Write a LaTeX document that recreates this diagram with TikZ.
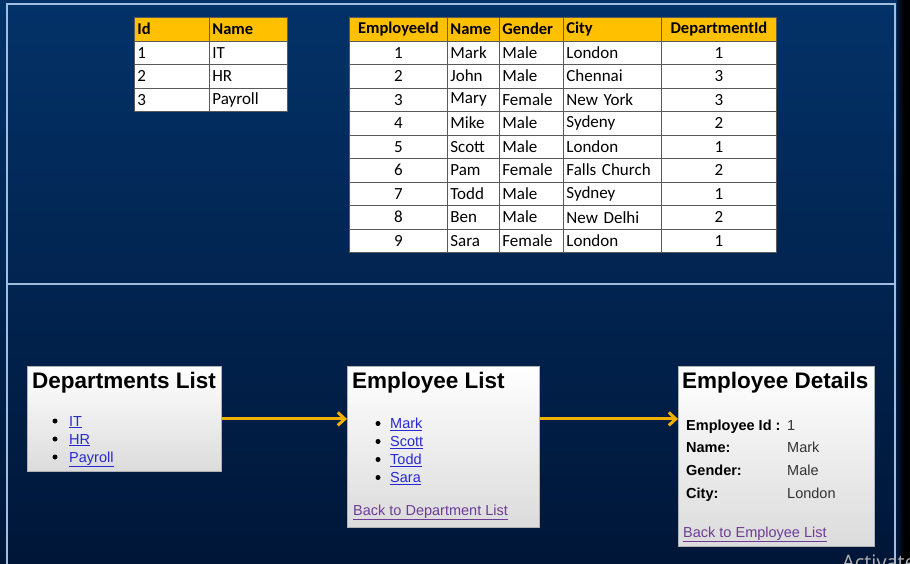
\documentclass[tikz,border=0pt]{standalone}
\usepackage{fontspec}
\setmainfont{Liberation Sans}
\newfontfamily\calibri{Carlito}
\newfontfamily\segoe{Open Sans}
\usetikzlibrary{arrows.meta,calc}
\definecolor{bgtop}{RGB}{3,50,104}
\definecolor{bgbot}{RGB}{0,22,56}
\definecolor{framec}{RGB}{160,190,225}
\definecolor{hdr}{RGB}{255,192,0}
\definecolor{gridc}{RGB}{90,90,90}
\definecolor{linkc}{RGB}{40,40,210}
\definecolor{visitc}{RGB}{110,60,150}
\definecolor{arrc}{RGB}{240,176,0}
\definecolor{valc}{RGB}{50,50,50}
\tikzset{
  cell/.style={draw=gridc, line width=0.8pt, fill=white, inner sep=0pt, anchor=north west,
    minimum height=23.5pt, font=\calibri\fontsize{17}{20}\selectfont, text=black},
  hd/.style={fill=hdr, font=\calibri\bfseries\fontsize{16.5}{20}\selectfont},
  shot/.style={draw=gray!60, line width=0.8pt, top color=white, bottom color=black!14, anchor=north west, inner sep=0pt},
  ttl/.style={anchor=base west, inner sep=0pt, font=\bfseries\fontsize{22.5}{26}\selectfont, text=black},
  item/.style={anchor=base west, inner sep=0pt, font=\fontsize{14.5}{17}\selectfont, text=linkc},
  back/.style={item, text=visitc},
  lab/.style={anchor=base west, inner sep=0pt, font=\bfseries\fontsize{14.5}{17}\selectfont, text=black},
  val/.style={anchor=base west, inner sep=0pt, font=\fontsize{14.5}{17}\selectfont, text=valc},
  bul/.style={circle, fill=black, inner sep=0pt, minimum size=5pt},
  arr/.style={draw=arrc, line width=3pt, -{Straight Barb[length=7pt,width=13pt]}},
}
\begin{document}
\begin{tikzpicture}[x=1pt,y=-1pt]
\useasboundingbox (0,0) rectangle (910,563);
% background
\shade[top color=bgtop, bottom color=bgbot] (0,0) rectangle (910,563);
\shade[left color=bgbot, right color=black] (897,0) rectangle (904,563);
\fill[black] (904,0) rectangle (910,563);
% frame
\draw[framec, line width=1.3pt] (7,570) -- (7,4) -- (895,4) -- (895,570);
\draw[framec, line width=1.6pt] (7,284) -- (895,284);

% Departments table
\node[cell, hd, minimum width=75pt, text width=69pt, inner xsep=3pt, align=left] (d0a) at (134,17) {Id};
\node[cell, hd, minimum width=78pt, text width=72pt, inner xsep=3pt, align=left] (d0b) at (209,17) {Name};
\foreach \i/\a/\b in {1/1/IT, 2/2/HR, 3/3/Payroll}{
  \node[cell, text width=69pt, inner xsep=3pt, align=left] (d\i a) at (134,{17+\i*23.5}) {\a};
  \node[cell, text width=72pt, inner xsep=3pt, align=left] (d\i b) at (209,{17+\i*23.5}) {\b};
}

% Employee table
\node[cell, hd, minimum width=98pt, align=center] (e0a) at (349,17) {EmployeeId};
\node[cell, hd, text width=46pt, inner xsep=3pt, align=left] (e0b) at (447,17) {Name};
\node[cell, hd, text width=58pt, inner xsep=3pt, align=left] (e0c) at (499,17) {Gender};
\node[cell, hd, text width=92pt, inner xsep=3pt, align=left] (e0d) at (563,17) {City};
\node[cell, hd, minimum width=115pt, align=center] (e0e) at (661,17) {DepartmentId};
\foreach \i/\b/\c/\d/\e in {1/Mark/Male/London/1, 2/John/Male/Chennai/3, 3/Mary/Female/New York/3,
  4/Mike/Male/Sydeny/2, 5/Scott/Male/London/1, 6/Pam/Female/Falls Church/2, 7/Todd/Male/Sydney/1,
  8/Ben/Male/New Delhi/2, 9/Sara/Female/London/1}{
  \node[cell, minimum width=98pt, align=center] (e\i a) at (349,{17+\i*23.5}) {\i};
  \node[cell, text width=46pt, inner xsep=3pt, align=left] (e\i b) at (447,{17+\i*23.5}) {\b};
  \node[cell, text width=58pt, inner xsep=3pt, align=left] (e\i c) at (499,{17+\i*23.5}) {\c};
  \node[cell, text width=92pt, inner xsep=3pt, align=left] (e\i d) at (563,{17+\i*23.5}) {\d};
  \node[cell, minimum width=115pt, align=center] (e\i e) at (661,{17+\i*23.5}) {\e};
}

% Browser boxes
\node[shot, minimum width=194pt, minimum height=105pt] (b1) at (27,366) {};
\node[shot, minimum width=192pt, minimum height=161pt] (b2) at (347,366) {};
\node[shot, minimum width=196pt, minimum height=180pt] (b3) at (678,366) {};

% Box 1
\node[ttl] (t1) at (32,388) {Departments List};
\foreach \n/\y/\t in {a/426/IT, b/444/HR, c/462/Payroll}{
  \node[bul] (bu1\n) at (55,\y-5) {};
  \node[item] (it1\n) at (69,\y) {\underline{\t}};
}
% Box 2
\node[ttl] (t2) at (352,388) {Employee List};
\foreach \n/\y/\t in {a/428.5/Mark, b/446.5/Scott, c/464.5/Todd, d/482.5/Sara}{
  \node[bul] (bu2\n) at (378,\y-5) {};
  \node[item] (it2\n) at (390,\y) {\underline{\t}};
}
\node[back] (bk2) at (353,515) {\underline{Back to Department List}};
% Box 3
\node[ttl] (t3) at (682,388) {Employee Details};
\node[lab] (l1) at (686,430) {Employee Id :};
\node[lab] (l2) at (686,452.5) {Name:};
\node[lab] (l3) at (686,475.5) {Gender:};
\node[lab] (l4) at (686,498) {City:};
\node[val] (v1) at (787,430) {1};
\node[val] (v2) at (787,452.5) {Mark};
\node[val] (v3) at (787,475.5) {Male};
\node[val] (v4) at (787,498) {London};
\node[back] (bk3) at (683,537) {\underline{Back to Employee List}};

% arrows
\draw[arr] (b1.east) -- (b1.east -| b2.west);
\draw[arr] (b1.east -| b2.east) -- (b1.east -| b3.west);

% watermark
\node[anchor=base west, inner sep=0pt, font=\segoe\fontsize{20}{24}\selectfont, text=gray!60] (wm) at (842,569) {Activate};
\end{tikzpicture}
\end{document}
